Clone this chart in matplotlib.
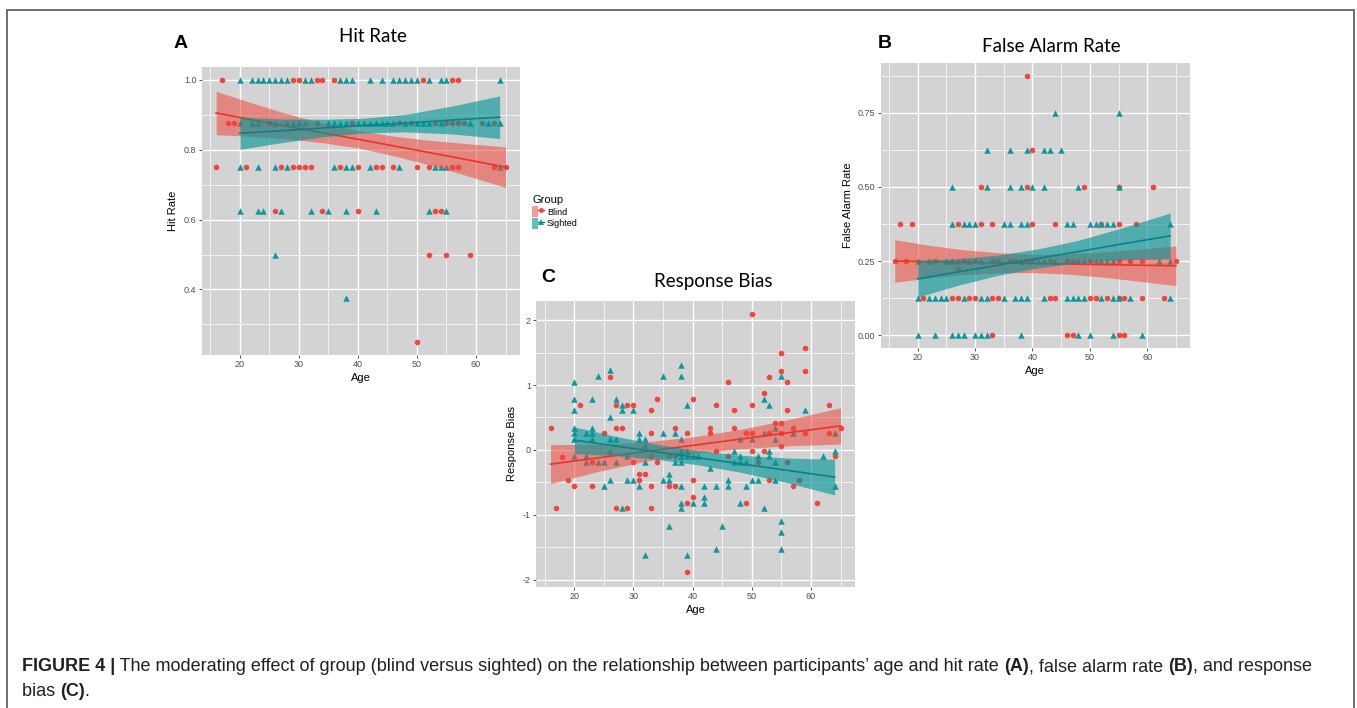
import numpy as np
import matplotlib
matplotlib.use("Agg")
import matplotlib.pyplot as plt
from matplotlib.patches import Patch, Rectangle
from matplotlib.lines import Line2D
from matplotlib.legend_handler import HandlerTuple

# ---- data ----
# panel A: hit rate
hit_blind_age = [17, 29, 30, 33, 34, 36, 51, 56, 57,
                 18, 19, 25, 33, 39, 47, 49, 53, 55, 56, 57, 58, 61, 63,
                 16, 21, 27, 29, 30, 31, 32, 37, 40, 43, 44, 46, 50, 52, 56, 57, 63, 65,
                 26, 34, 40, 53, 54,
                 52, 55, 59,
                 50]
hit_blind_val = [1.0, 1.0, 1.0, 1.0, 1.0, 1.0, 1.0, 1.0, 1.0,
                 0.875, 0.875, 0.875, 0.875, 0.875, 0.875, 0.875, 0.875, 0.875, 0.875, 0.875, 0.875, 0.875, 0.875,
                 0.75, 0.75, 0.75, 0.75, 0.75, 0.75, 0.75, 0.75, 0.75, 0.75, 0.75, 0.75, 0.75, 0.75, 0.75, 0.75, 0.75, 0.75,
                 0.625, 0.625, 0.625, 0.625, 0.625,
                 0.5, 0.5, 0.5,
                 0.25]
hit_sighted_age = [20, 22, 23, 24, 25, 26, 27, 28, 31, 32, 37, 38, 39, 42, 44, 46, 47, 48, 49, 50, 52, 54, 55, 64,
                   20, 22, 23, 26, 28, 29, 30, 31, 35, 36, 37, 38, 40, 41, 42, 43, 44, 45, 46, 48, 50, 51, 52, 54, 59, 62, 64,
                   20, 23, 26, 28, 36, 38, 39, 42, 47, 53, 54, 55, 64,
                   20, 23, 24, 27, 32, 35, 38, 43, 52, 55,
                   26, 38]
hit_sighted_val = [1.0, 1.0, 1.0, 1.0, 1.0, 1.0, 1.0, 1.0, 1.0, 1.0, 1.0, 1.0, 1.0, 1.0, 1.0, 1.0, 1.0, 1.0, 1.0, 1.0, 1.0, 1.0, 1.0, 1.0,
                   0.875, 0.875, 0.875, 0.875, 0.875, 0.875, 0.875, 0.875, 0.875, 0.875, 0.875, 0.875, 0.875, 0.875,
                   0.875, 0.875, 0.875, 0.875, 0.875, 0.875, 0.875, 0.875, 0.875, 0.875, 0.875, 0.875, 0.875,
                   0.75, 0.75, 0.75, 0.75, 0.75, 0.75, 0.75, 0.75, 0.75, 0.75, 0.75, 0.75, 0.75,
                   0.625, 0.625, 0.625, 0.625, 0.625, 0.625, 0.625, 0.625, 0.625, 0.625,
                   0.5, 0.375]

# panel B: false alarm rate
fa_blind_age = [39, 40, 31, 39, 49, 55, 61,
                17, 19, 27, 31, 33, 40, 44, 52, 55, 58,
                16, 18, 23, 28, 30, 33, 34, 36, 37, 39, 40, 43, 46, 47, 50, 55, 57, 59, 65, 27,
                21, 26, 27, 29, 30, 33, 34, 43, 44, 50, 51, 53, 55, 56, 59, 63,
                33, 46, 47, 55, 56]
fa_blind_val = [0.875, 0.625, 0.5, 0.5, 0.5, 0.5, 0.5,
                0.375, 0.375, 0.375, 0.375, 0.375, 0.375, 0.375, 0.375, 0.375, 0.375,
                0.25, 0.25, 0.25, 0.25, 0.25, 0.25, 0.25, 0.25, 0.25, 0.25, 0.25, 0.25, 0.25, 0.25, 0.25, 0.25, 0.25, 0.25, 0.25, 0.222,
                0.125, 0.125, 0.125, 0.125, 0.125, 0.125, 0.125, 0.125, 0.125, 0.125, 0.125, 0.125, 0.125, 0.125, 0.125, 0.125,
                0.0, 0.0, 0.0, 0.0, 0.0]
fa_sighted_age = [44, 55,
                  32, 36, 39, 42, 43, 45,
                  26, 32, 36, 38, 40, 42, 48, 55,
                  26, 28, 29, 30, 35, 36, 38, 39, 46, 47, 50, 51, 52, 53, 54, 64,
                  20, 22, 25, 26, 27, 29, 31, 38, 41, 42, 44, 48, 49, 51, 52, 53, 54, 62, 64,
                  20, 22, 23, 24, 25, 28, 31, 32, 35, 37, 38, 39, 42, 46, 47, 48, 49, 52, 54, 55, 57, 64,
                  20, 23, 26, 27, 28, 30, 31, 32, 38, 48, 50, 54, 59]
fa_sighted_val = [0.75, 0.75,
                  0.625, 0.625, 0.625, 0.625, 0.625, 0.625,
                  0.5, 0.5, 0.5, 0.5, 0.5, 0.5, 0.5, 0.5,
                  0.375, 0.375, 0.375, 0.375, 0.375, 0.375, 0.375, 0.375, 0.375, 0.375, 0.375, 0.375, 0.375, 0.375, 0.375, 0.375,
                  0.25, 0.25, 0.25, 0.25, 0.25, 0.25, 0.25, 0.25, 0.25, 0.25, 0.25, 0.25, 0.25, 0.25, 0.25, 0.25, 0.25, 0.25, 0.25,
                  0.125, 0.125, 0.125, 0.125, 0.125, 0.125, 0.125, 0.125, 0.125, 0.125, 0.125, 0.125, 0.125, 0.125, 0.125,
                  0.125, 0.125, 0.125, 0.125, 0.125, 0.125, 0.125,
                  0.0, 0.0, 0.0, 0.0, 0.0, 0.0, 0.0, 0.0, 0.0, 0.0, 0.0, 0.0, 0.0]

# panel C: response bias
rb_blind_age = [16, 17, 18, 19, 20, 21, 23, 23, 25, 26, 27, 27, 27, 28, 29, 29, 30, 30, 31, 31,
                32, 33, 33, 33, 33, 33, 34, 34, 36, 36, 37, 37, 37, 39, 39, 39, 40, 40, 40, 43,
                43, 44, 44, 46, 46, 47, 47, 49, 49, 50, 50, 50, 50, 51, 52, 52, 53, 53, 53, 54,
                55, 55, 55, 55, 55, 56, 56, 56, 57, 57, 58, 59, 59, 59, 61, 63, 63, 64, 65]
rb_blind_val = [0.33, -0.90, -0.11, -0.47, -0.55, 0.69, -0.19, -0.55, 0.26, 1.13, 0.69, 0.33, -0.90, 0.33, 0.69, -0.90, 0.69, -0.19, -0.37, -0.46,
                -0.37, 0.61, 0.26, -0.10, -0.55, -0.90, 0.78, -0.19, -0.55, -0.10, 0.33, -0.55, -0.10, 0.26, -0.82, -1.89, 0.78, -0.46, -0.73, 0.33,
                0.26, 0.69, -0.02, 1.05, -0.10, 0.61, 0.33, 0.26, -0.82, 2.10, 0.69, 0.26, -0.02, -0.19, 0.87, -0.02, 1.13, 0.26, -0.46, 0.42,
                1.49, 1.22, 0.42, 0.26, 0.06, 1.05, 0.61, -0.19, 0.33, -0.55, -0.46, 1.57, 1.22, 0.26, -0.82, 0.69, 0.26, -0.10, 0.33]
rb_sighted_age = [20, 20, 20, 20, 20, 20, 20, 22, 22, 22, 23, 23, 23, 23, 24, 24, 25, 25, 26, 26,
                  26, 26, 26, 27, 27, 27, 28, 28, 28, 29, 29, 30, 30, 31, 31, 31, 32, 32, 32, 32,
                  35, 35, 35, 36, 36, 36, 37, 37, 38, 38, 38, 38, 38, 38, 38, 38, 38, 39, 39, 39,
                  39, 40, 40, 41, 42, 42, 42, 43, 44, 44, 45, 46, 46, 47, 47, 48, 48, 48, 48, 49,
                  49, 50, 50, 51, 51, 52, 52, 52, 53, 53, 53, 54, 54, 54, 54, 55, 55, 55, 55, 57,
                  59, 62, 64, 64, 64]
rb_sighted_val = [1.05, 0.78, 0.61, 0.34, 0.26, 0.17, -0.10, 0.26, -0.10, -0.19, 0.78, 0.34, 0.26, 0.17, 1.14, -0.19, -0.19, -0.55, 1.23, 0.51,
                  0.17, -0.02, -0.46, 0.78, 0.17, -0.19, 0.69, 0.61, -0.90, -0.10, -0.46, 0.61, -0.46, 0.26, 0.17, -0.55, 0.17, 0.08, -0.19, -1.62,
                  1.14, 0.26, -0.46, -0.37, -0.46, -1.18, 0.26, -0.19, 1.31, 1.14, 0.17, -0.02, -0.10, -0.19, -0.55, -0.82, -0.90, 0.69, -0.02, -0.10,
                  -1.62, -0.10, -0.82, -0.10, -0.55, -0.73, -0.82, -0.28, -0.55, -1.53, -1.18, -0.46, -0.55, -0.02, -0.19, 0.17, -0.10, -0.19, -0.82, -0.19,
                  -0.55, 0.17, -0.46, -0.10, -0.46, 0.78, 0.26, -0.90, 0.69, -0.02, -0.10, 0.34, 0.17, -0.19, -0.46, 1.14, -1.09, -1.26, -1.53, 0.26,
                  0.61, -0.10, 0.26, -0.02, -0.55]

# fitted lines and confidence bands (read at a few ages)
hit_fit_b_age = [16, 22, 28, 34, 40, 46, 52, 58, 65]
hit_fit_b_mid = [0.905, 0.886, 0.867, 0.848, 0.830, 0.811, 0.792, 0.773, 0.750]
hit_fit_b_lo = [0.843, 0.838, 0.831, 0.820, 0.805, 0.783, 0.757, 0.728, 0.692]
hit_fit_b_hi = [0.967, 0.934, 0.903, 0.876, 0.855, 0.839, 0.827, 0.818, 0.808]
hit_fit_s_age = [20, 27, 34, 41, 48, 56, 64]
hit_fit_s_mid = [0.847, 0.854, 0.862, 0.869, 0.876, 0.885, 0.893]
hit_fit_s_lo = [0.801, 0.820, 0.837, 0.848, 0.851, 0.845, 0.832]
hit_fit_s_hi = [0.893, 0.888, 0.887, 0.890, 0.901, 0.925, 0.954]

fa_fit_b_age = [16, 22, 28, 34, 40, 46, 52, 58, 65]
fa_fit_b_mid = [0.250, 0.248, 0.246, 0.244, 0.242, 0.240, 0.238, 0.236, 0.234]
fa_fit_b_lo = [0.178, 0.193, 0.204, 0.210, 0.211, 0.206, 0.196, 0.183, 0.167]
fa_fit_b_hi = [0.322, 0.303, 0.288, 0.278, 0.273, 0.274, 0.280, 0.289, 0.301]
fa_fit_s_age = [20, 27, 34, 41, 48, 56, 64]
fa_fit_s_mid = [0.190, 0.213, 0.236, 0.259, 0.282, 0.309, 0.335]
fa_fit_s_lo = [0.128, 0.168, 0.202, 0.227, 0.244, 0.254, 0.258]
fa_fit_s_hi = [0.252, 0.258, 0.270, 0.291, 0.320, 0.364, 0.412]

rb_fit_b_age = [16, 24, 32, 40, 48, 56, 65]
rb_fit_b_mid = [-0.220, -0.124, -0.027, 0.069, 0.165, 0.262, 0.370]
rb_fit_b_lo = [-0.520, -0.334, -0.177, -0.061, 0.015, 0.062, 0.090]
rb_fit_b_hi = [0.080, 0.086, 0.123, 0.199, 0.315, 0.462, 0.650]
rb_fit_s_age = [20, 27, 34, 41, 48, 56, 64]
rb_fit_s_mid = [0.150, 0.059, -0.031, -0.122, -0.213, -0.316, -0.420]
rb_fit_s_lo = [-0.055, -0.091, -0.146, -0.232, -0.343, -0.506, -0.695]
rb_fit_s_hi = [0.355, 0.209, 0.084, -0.012, -0.083, -0.126, -0.145]

# colours
RED_PT = "#F0463E"
TEAL_PT = "#11989C"
RED_LINE = "#E8342A"
TEAL_LINE = "#0B8286"
RED_BAND = "#F2473C"
TEAL_BAND = "#009596"
PANEL_BG = "#D3D3D3"

W, H = 1357, 708
fig = plt.figure(figsize=(W / 100, H / 100), dpi=100)


def px_axes(left, top, right, bottom):
    return fig.add_axes([left / W, 1 - bottom / H, (right - left) / W, (bottom - top) / H])


def draw_panel(ax, b_age, b_val, s_age, s_val, fb, fs, ylim, yticks, ylabels, yminor, ylab):
    ax.set_facecolor(PANEL_BG)
    for s in ax.spines.values():
        s.set_visible(False)
    ax.set_xlim(13.55, 67.45)
    ax.set_ylim(*ylim)
    ax.set_xticks([20, 30, 40, 50, 60])
    ax.set_xticks([15, 25, 35, 45, 55, 65], minor=True)
    ax.set_yticks(yticks)
    ax.set_yticklabels(ylabels)
    ax.set_yticks(yminor, minor=True)
    ax.grid(which="major", color="white", lw=1.0, zorder=0)
    ax.grid(which="minor", color="white", lw=0.5, zorder=0)
    ax.set_axisbelow(True)
    ax.tick_params(which="major", length=2.2, width=0.6, color="#333333", pad=1.5,
                   labelsize=6.5, labelcolor="#4D4D4D")
    ax.tick_params(which="minor", length=0)
    for t in ax.get_xticklabels() + ax.get_yticklabels():
        t.set_fontfamily("Liberation Sans")

    ax.scatter(b_age, b_val, s=16, marker="o", color=RED_PT, lw=0, zorder=2)
    ax.scatter(s_age, s_val, s=22, marker="^", color=TEAL_PT, lw=0, zorder=2)

    ax.fill_between(fb[0], fb[2], fb[3], color=RED_BAND, alpha=0.55, lw=0, zorder=3)
    ax.plot(fb[0], fb[1], color=RED_LINE, lw=1.2, zorder=4)
    ax.fill_between(fs[0], fs[2], fs[3], color=TEAL_BAND, alpha=0.62, lw=0, zorder=5)
    ax.plot(fs[0], fs[1], color=TEAL_LINE, lw=1.2, zorder=6)

    ax.set_xlabel("Age", fontsize=8, family="Liberation Sans", labelpad=3)
    ax.set_ylabel(ylab, fontsize=8, family="Liberation Sans", labelpad=4)


axA = px_axes(201.7, 66.7, 520, 355)
draw_panel(axA, hit_blind_age, hit_blind_val, hit_sighted_age, hit_sighted_val,
           (hit_fit_b_age, hit_fit_b_mid, hit_fit_b_lo, hit_fit_b_hi),
           (hit_fit_s_age, hit_fit_s_mid, hit_fit_s_lo, hit_fit_s_hi),
           (0.2125, 1.0375), [0.4, 0.6, 0.8, 1.0], ["0.4", "0.6", "0.8", "1.0"],
           [0.3, 0.5, 0.7, 0.9], "Hit Rate")

axB = px_axes(880.7, 63, 1190, 348)
draw_panel(axB, fa_blind_age, fa_blind_val, fa_sighted_age, fa_sighted_val,
           (fa_fit_b_age, fa_fit_b_mid, fa_fit_b_lo, fa_fit_b_hi),
           (fa_fit_s_age, fa_fit_s_mid, fa_fit_s_lo, fa_fit_s_hi),
           (-0.04375, 0.91875), [0.0, 0.25, 0.5, 0.75], ["0.00", "0.25", "0.50", "0.75"],
           [0.125, 0.375, 0.625, 0.875], "False Alarm Rate")

axC = px_axes(536, 300.7, 855, 586.7)
draw_panel(axC, rb_blind_age, rb_blind_val, rb_sighted_age, rb_sighted_val,
           (rb_fit_b_age, rb_fit_b_mid, rb_fit_b_lo, rb_fit_b_hi),
           (rb_fit_s_age, rb_fit_s_mid, rb_fit_s_lo, rb_fit_s_hi),
           (-2.11, 2.30), [-2, -1, 0, 1, 2], ["-2", "-1", "0", "1", "2"],
           [-1.5, -0.5, 0.5, 1.5], "Response Bias")

# panel letters and titles
for letter, x, y in [("A", 181, 43), ("B", 885, 43), ("C", 548, 278)]:
    fig.text(x / W, 1 - y / H, letter, fontsize=14, fontweight="bold", family="Liberation Sans",
             ha="center", va="center")
for title, x, y in [("Hit Rate", 373, 37), ("False Alarm Rate", 1051, 46), ("Response Bias", 713, 281)]:
    fig.text(x / W, 1 - y / H, title, fontsize=13.5, family="Lato", ha="center", va="center")

# legend
hb = (Patch(facecolor=RED_BAND, alpha=0.55, lw=0),
      Line2D([], [], color=RED_LINE, lw=1.0, marker="o", markersize=3.5, markerfacecolor=RED_PT, markeredgewidth=0))
hs = (Patch(facecolor=TEAL_BAND, alpha=0.62, lw=0),
      Line2D([], [], color=TEAL_LINE, lw=1.0, marker="^", markersize=4, markerfacecolor=TEAL_PT, markeredgewidth=0))
leg = fig.legend([hb, hs], ["Blind", "Sighted"], title="Group", loc="upper left",
                 bbox_to_anchor=(526 / W, 1 - 189 / H), frameon=False,
                 handler_map={tuple: HandlerTuple(ndivide=None, pad=0)},
                 handlelength=1.3, handleheight=1.45, handletextpad=0.3, labelspacing=0.1,
                 borderpad=0.2, prop={"family": "Liberation Sans", "size": 6.5})
leg.get_title().set_fontsize(8)
leg.get_title().set_fontfamily("Liberation Sans")
leg._legend_box.align = "left"

# caption
cap = fig.add_axes([0, 0, 1, 1], facecolor="none")
cap.set_axis_off()
cap.set_xlim(0, W)
cap.set_ylim(H, 0)
capcol = "#231F20"
parts = [("FIGURE 4 |", "bold"),
         (" The moderating effect of group (blind versus sighted) on the relationship between participants\u2019 age and hit rate ", "normal"),
         ("(A)", "bold"), (", false alarm rate ", "normal"), ("(B)", "bold"), (", and response", "normal")]
prev = None
for txt, wt in parts:
    if prev is None:
        prev = cap.text(22, 671, txt, fontsize=13, fontweight=wt, family="Liberation Sans",
                        color=capcol, ha="left", va="baseline")
    else:
        prev = cap.annotate(txt, xy=(1, 0), xycoords=prev, fontsize=13, fontweight=wt,
                            family="Liberation Sans", color=capcol, ha="left", va="bottom")
prev = None
for txt, wt in [("bias ", "normal"), ("(C)", "bold"), (".", "normal")]:
    if prev is None:
        prev = cap.text(22, 696, txt, fontsize=13, fontweight=wt, family="Liberation Sans",
                        color=capcol, ha="left", va="baseline")
    else:
        prev = cap.annotate(txt, xy=(1, 0), xycoords=prev, fontsize=13, fontweight=wt,
                            family="Liberation Sans", color=capcol, ha="left", va="bottom")

# outer frame
fig.add_artist(Rectangle((7 / W, -0.02), (1354 - 7) / W, 1.02 - 10 / H, transform=fig.transFigure,
                         fill=False, edgecolor="#555555", lw=1.2))

fig.savefig("out.png", dpi=100)
